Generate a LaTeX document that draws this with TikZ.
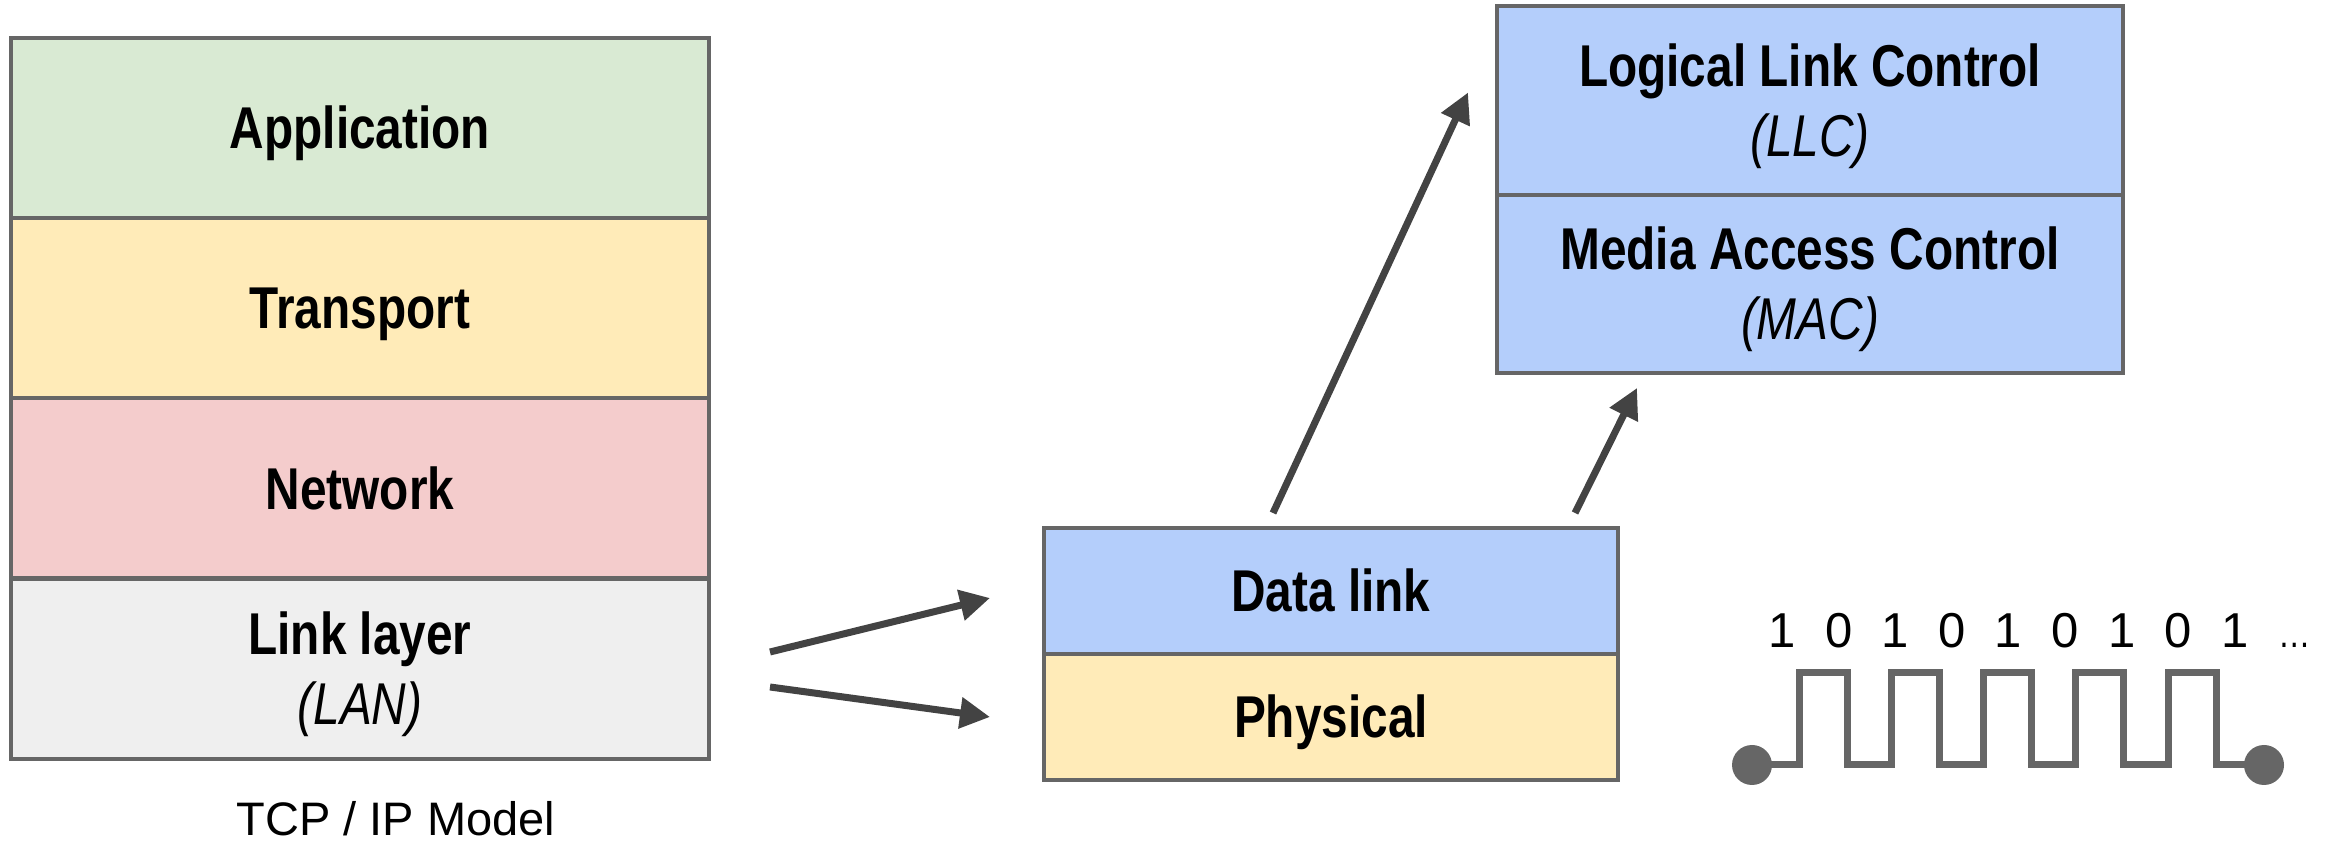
\documentclass[tikz,border=0pt]{standalone}
\usepackage{fontspec}
\setmainfont{Liberation Sans}
\newfontfamily\condfont[FakeStretch=0.81]{Liberation Sans}
\usetikzlibrary{arrows.meta}
\definecolor{appgreen}{HTML}{D9EAD3}
\definecolor{transyellow}{HTML}{FFEBB8}
\definecolor{netred}{HTML}{F4CCCC}
\definecolor{linkgray}{HTML}{EFEFEF}
\definecolor{dlblue}{HTML}{B4CEFB}
\definecolor{edgegray}{HTML}{666666}
\definecolor{arrowgray}{HTML}{434343}

\begin{document}
\begin{tikzpicture}[x=1pt, y=1pt, line join=miter,
    layer/.style={draw=edgegray, line width=4pt, minimum width=698pt, minimum height=180pt, inner sep=0pt, outer sep=0pt, text height=42pt, text depth=0pt, align=center, font=\condfont\bfseries\fontsize{59}{70}\selectfont},
    twoline/.style={text height=112pt},
    arr/.style={draw=arrowgray, line width=7pt, -{Triangle[length=30pt, width=30pt]}},
    wave/.style={draw=edgegray, line width=7pt},
    dot/.style={circle, fill=edgegray, minimum size=40pt, inner sep=0pt},
    bit/.style={anchor=base, font=\fontsize{49}{58}\selectfont}]
    \useasboundingbox (0,0) rectangle (2325,842);
    % TCP / IP stack
    \node[layer, fill=appgreen] (app) at (360,714) {Application};
    \node[layer, fill=transyellow] (trans) at (360,534) {Transport};
    \node[layer, fill=netred] (net) at (360,353.5) {Network};
    \node[layer, twoline, fill=linkgray] (link) at (360,173) {Link layer\\{\mdseries\itshape (LAN)}};
    \node[anchor=base, font=\fontsize{47}{56}\selectfont] (model) at (396,6) {TCP / IP Model};
    % link layer split
    \node[layer, minimum width=574pt, minimum height=126pt, fill=dlblue] (dl) at (1331,251) {Data link};
    \node[layer, minimum width=574pt, minimum height=126pt, fill=transyellow] (phys) at (1331,125) {Physical};
    \node[layer, twoline, minimum width=626pt, minimum height=189pt, fill=dlblue] (llc) at (1810,741.5) {Logical Link Control\\{\mdseries\itshape (LLC)}};
    \node[layer, twoline, minimum width=626pt, minimum height=178pt, fill=dlblue] (mac) at (1810,558) {Media Access Control\\{\mdseries\itshape (MAC)}};
    \draw[arr] ([shift={(61,17)}]link.east) -- ([shift={(-54,-7)}]dl.west);
    \draw[arr] ([shift={(61,-18)}]link.east) -- ([xshift=-54]phys.west);
    \draw[arr] ([shift={(-58,15)}]dl.north) -- ([shift={(-29,8)}]llc.west);
    \draw[arr] ([shift={(244,15)}]dl.north) -- ([shift={(-173,-15)}]mac.south);
    % signal
    \node[dot] (s0) at (1752,77) {};
    \node[dot] (s1) at (2264,77) {};
    \draw[wave] (s0.center) \foreach \i in {0,...,4} {
        -- ({1799+92.3*\i},77) -- ({1799+92.3*\i},169) -- ({1847+92.3*\i},169) -- ({1847+92.3*\i},77)} -- (s1.center);
    \foreach \b [count=\i from 0] in {1,0,1,0,1,0,1,0,1}
        \node[bit] (bit\i) at ({1782+56.6*\i},194) {\b};
    \node[bit, font=\condfont\fontsize{40}{48}\selectfont] (more) at (2295,194) {…};
\end{tikzpicture}
\end{document}
